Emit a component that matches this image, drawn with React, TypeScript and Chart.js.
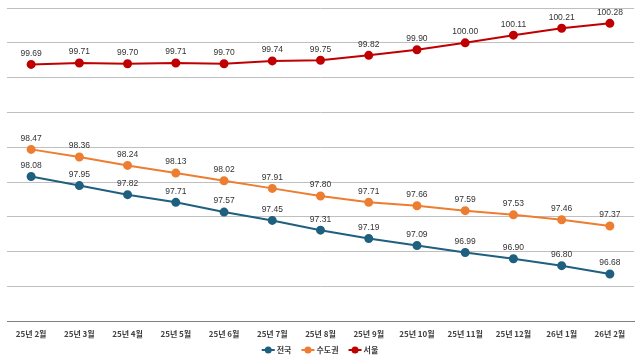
import React, { useEffect, useRef } from "react";
import { Chart, registerables } from "chart.js";

Chart.register(...registerables);

const months = ["25년 2월", "25년 3월", "25년 4월", "25년 5월", "25년 6월", "25년 7월", "25년 8월", "25년 9월", "25년 10월", "25년 11월", "25년 12월", "26년 1월", "26년 2월"];
const national = [98.08, 97.95, 97.82, 97.71, 97.57, 97.45, 97.31, 97.19, 97.09, 96.99, 96.90, 96.80, 96.68];
const capital = [98.47, 98.36, 98.24, 98.13, 98.02, 97.91, 97.80, 97.71, 97.66, 97.59, 97.53, 97.46, 97.37];
const seoul = [99.69, 99.71, 99.70, 99.71, 99.70, 99.74, 99.75, 99.82, 99.90, 100.00, 100.11, 100.21, 100.28];
const seriesNames = ["전국", "수도권", "서울"];
const seriesColors = ["#1f5f7f", "#ed7d31", "#c00000"];

const labelPlugin = {
  id: "pointLabels",
  afterDatasetsDraw(chart: any) {
    const ctx = chart.ctx;
    ctx.save();
    ctx.font = "8.5px 'Liberation Sans', Arial, sans-serif";
    ctx.fillStyle = "#333333";
    ctx.textAlign = "center";
    ctx.textBaseline = "middle";
    chart.data.datasets.forEach((ds: any, i: number) => {
      const meta = chart.getDatasetMeta(i);
      meta.data.forEach((pt: any, j: number) => {
        ctx.fillText(Number(ds.data[j]).toFixed(2), pt.x, pt.y - 11);
      });
    });
    ctx.restore();
  },
};

const legendPlugin = {
  id: "lineLegend",
  afterDraw(chart: any) {
    const ctx = chart.ctx;
    ctx.save();
    ctx.font = "bold 8px 'Noto Sans CJK KR', sans-serif";
    ctx.textBaseline = "middle";
    ctx.textAlign = "left";
    const iconW = 13;
    const gapIcon = 2;
    const gapItem = 10;
    const items = chart.data.datasets.map((ds: any) => ({
      label: ds.label,
      color: ds.borderColor,
      w: iconW + gapIcon + ctx.measureText(ds.label).width,
    }));
    const total = items.reduce((s: number, it: any) => s + it.w, 0) + gapItem * (items.length - 1);
    let x = chart.width / 2 - total / 2;
    const y = 350;
    items.forEach((it: any) => {
      ctx.strokeStyle = it.color;
      ctx.fillStyle = it.color;
      ctx.lineWidth = 2;
      ctx.beginPath();
      ctx.moveTo(x, y);
      ctx.lineTo(x + iconW, y);
      ctx.stroke();
      ctx.beginPath();
      ctx.arc(x + iconW / 2, y, 3.5, 0, Math.PI * 2);
      ctx.fill();
      ctx.fillStyle = "#404040";
      ctx.fillText(it.label, x + iconW + gapIcon, y);
      x += it.w + gapItem;
    });
    ctx.restore();
  },
};

export default function App() {
  const ref = useRef<HTMLCanvasElement>(null);
  useEffect(() => {
    document.body.style.margin = "0";
    const values = [national, capital, seoul];
    const chart = new Chart(ref.current!, {
      type: "line",
      data: {
        labels: months,
        datasets: values.map((d, i) => ({
          label: seriesNames[i],
          data: d,
          borderColor: seriesColors[i],
          backgroundColor: seriesColors[i],
          borderWidth: 2,
          pointRadius: 3.5,
          pointStyle: "circle",
          pointBackgroundColor: seriesColors[i],
          pointBorderColor: seriesColors[i],
          tension: 0,
        })),
      },
      options: {
        animation: false,
        responsive: false,
        maintainAspectRatio: false,
        layout: { padding: { left: 7, right: 6, top: 8, bottom: 21 } },
        plugins: {
          tooltip: { enabled: false },
          legend: { display: false },
        },
        scales: {
          x: {
            offset: true,
            grid: { display: false },
            border: { color: "#7f7f7f", width: 1 },
            ticks: {
              color: "#404040",
              padding: 0,
              font: { size: 8, family: "'Noto Sans CJK KR', sans-serif", weight: "bold" },
              maxRotation: 0,
              autoSkip: false,
            },
          },
          y: {
            min: 96,
            max: 100.5,
            ticks: { display: false, stepSize: 0.5 },
            border: { display: false },
            grid: { color: "#bfbfbf", lineWidth: 1, drawTicks: false },
          },
        },
      },
      plugins: [labelPlugin, legendPlugin],
    } as any);
    return () => chart.destroy();
  }, []);
  return (
    <div style={{ position: "absolute", left: 0, top: 0, width: 640, height: 360, background: "#fff" }}>
      <canvas ref={ref} width={640} height={360} />
    </div>
  );
}
